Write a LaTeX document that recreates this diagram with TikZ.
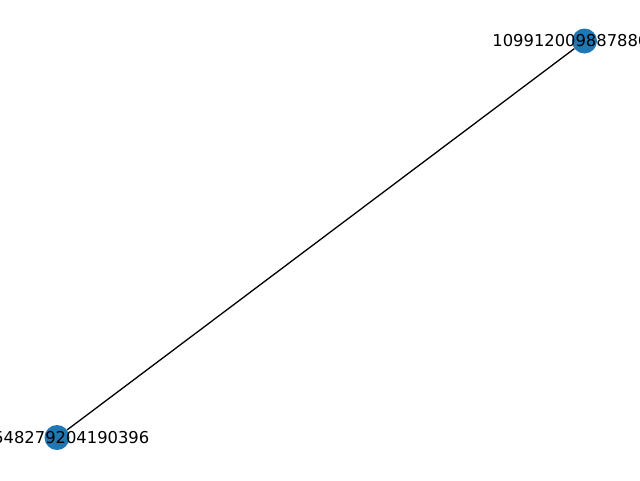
\documentclass[tikz,border=0pt]{standalone}
\usepackage{fontspec}
\setmainfont{DejaVu Sans}
\usetikzlibrary{positioning}
\definecolor{nodeblue}{HTML}{1F77B4}
\tikzset{
    vertex/.style={circle,fill=nodeblue,draw=none,minimum size=25pt,inner sep=0pt},
    tag/.style={inner sep=0pt,font=\fontsize{16.35}{18}\selectfont},
    link/.style={draw,line width=1.3pt},
}

\begin{document}
\begin{tikzpicture}[x=1pt,y=-1pt]
    \useasboundingbox (0,0) rectangle (640,480);
    \node[vertex] (u) at (584.5,41) {};
    \node[vertex] (v) at (57,437.5) {};

    \path (u) edge[link] (v);

    \node[tag,anchor=west] (ulabel) at (492.2,41) {109912009887886};
    \node[tag,anchor=east] (vlabel) at (149.5,437.5) {548279204190396};
\end{tikzpicture}
\end{document}
